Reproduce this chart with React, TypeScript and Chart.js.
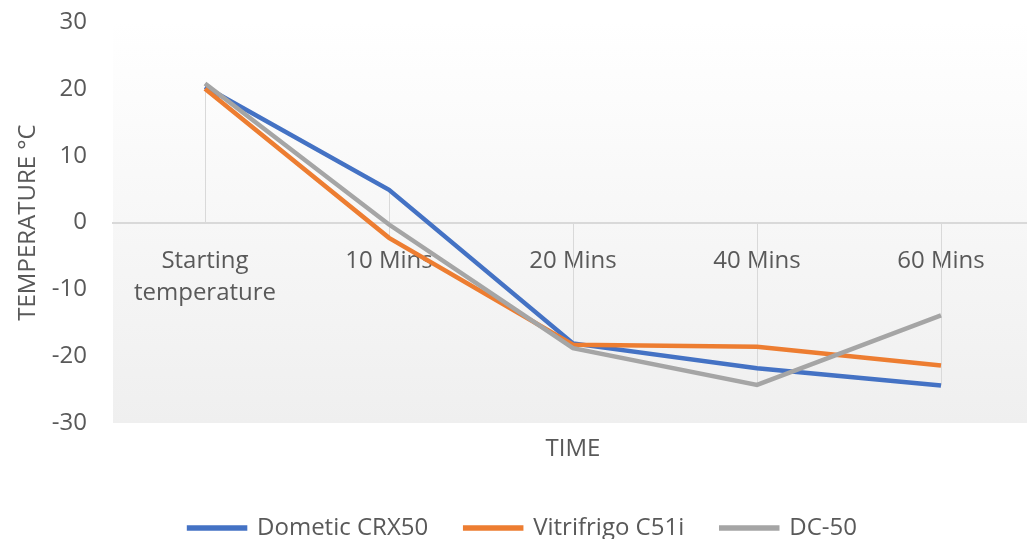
import React, { useEffect, useRef } from 'react';
import { Chart, registerables } from 'chart.js';

Chart.register(...registerables);

const categories: (string | string[])[] = [['Starting', 'temperature'], '10 Mins', '20 Mins', '40 Mins', '60 Mins'];
const dometicCRX50 = [20.3, 4.9, -18.1, -21.8, -24.4];
const vitrifrigoC51i = [20.0, -2.3, -18.3, -18.6, -21.4];
const dc50 = [20.8, -0.3, -18.8, -24.3, -13.9];
const yMin = -30;
const yMax = 30;
const yStep = 10;

const TEXT = '#595959';
const FONT = 'Open Sans';

const plotBg = {
  id: 'plotBg',
  beforeDraw(chart: any) {
    const { ctx, chartArea: a } = chart;
    const g = ctx.createLinearGradient(0, a.top, 0, a.bottom);
    g.addColorStop(0, '#ffffff');
    g.addColorStop(1, '#efefef');
    ctx.save();
    ctx.fillStyle = g;
    ctx.fillRect(a.left, a.top, a.right - a.left, a.bottom - a.top);
    ctx.restore();
  },
};

const dropLines = {
  id: 'dropLines',
  beforeDatasetsDraw(chart: any) {
    const { ctx } = chart;
    const xs = chart.scales.x;
    const ys = chart.scales.y;
    const ds = chart.data.datasets;
    ctx.save();
    ctx.strokeStyle = '#d9d9d9';
    ctx.lineWidth = 1;
    for (let i = 0; i < chart.data.labels.length; i++) {
      const vals = ds.map((d: any) => d.data[i] as number);
      const lo = Math.min(0, ...vals);
      const hi = Math.max(0, ...vals);
      const px = Math.round(xs.getPixelForValue(i)) + 0.5;
      ctx.beginPath();
      ctx.moveTo(px, ys.getPixelForValue(hi));
      ctx.lineTo(px, ys.getPixelForValue(lo));
      ctx.stroke();
    }
    ctx.restore();
  },
};

export default function App() {
  const ref = useRef<HTMLCanvasElement>(null);
  useEffect(() => {
    if (!ref.current) return;
    const chart = new Chart(ref.current, {
      type: 'line',
      data: {
        labels: categories,
        datasets: [
          { label: 'DC-50', data: dc50, borderColor: '#A5A5A5', backgroundColor: '#A5A5A5', borderWidth: 4.5, pointRadius: 0, tension: 0 },
          { label: 'Vitrifrigo C51i', data: vitrifrigoC51i, borderColor: '#ED7D31', backgroundColor: '#ED7D31', borderWidth: 4.5, pointRadius: 0, tension: 0 },
          { label: 'Dometic CRX50', data: dometicCRX50, borderColor: '#4472C4', backgroundColor: '#4472C4', borderWidth: 4.5, pointRadius: 0, tension: 0 },
        ],
      },
      options: {
        animation: false,
        responsive: false,
        devicePixelRatio: 1,
        layout: { padding: { left: 0, top: 22, right: 0, bottom: 0 } },
        scales: {
          x: {
            type: 'category',
            position: { y: 0 } as any,
            offset: true,
            grid: { display: false, drawTicks: false },
            border: { display: true, color: '#d9d9d9', width: 2 },
            ticks: { color: TEXT, font: { family: FONT, size: 24, lineHeight: 1.35 }, padding: 22, maxRotation: 0, autoSkip: false },
          },
          y: {
            type: 'linear',
            min: yMin,
            max: yMax,
            grid: { display: false, drawTicks: true, tickLength: 22 },
            border: { display: false },
            ticks: { stepSize: yStep, color: TEXT, font: { family: FONT, size: 24 }, padding: 4 },
            title: { display: true, text: 'TEMPERATURE °C', color: TEXT, font: { family: FONT, size: 24 }, padding: { top: 14, bottom: 0 } },
            afterFit(s: any) { s.width = 113; },
          },
          yR: {
            type: 'linear',
            position: 'right',
            min: 0,
            max: 1,
            grid: { display: false, drawTicks: false },
            border: { display: false },
            ticks: { display: false },
            afterFit(s: any) { s.width = 13; },
          },
        },
        plugins: {
          legend: {
            position: 'bottom',
            reverse: true,
            labels: { color: TEXT, font: { family: FONT, size: 24 }, boxWidth: 56, boxHeight: 1, padding: 37 },
          },
          title: {
            display: true,
            text: 'TIME',
            position: 'bottom',
            fullSize: false,
            weight: 500,
            color: TEXT,
            font: { family: FONT, size: 24, weight: 'normal' },
            padding: { top: 11.6, bottom: 15.6 },
          } as any,
          tooltip: { enabled: false },
        },
      },
      plugins: [plotBg, dropLines],
    });
    return () => chart.destroy();
  }, []);
  return (
    <div style={{ position: 'fixed', left: 0, top: 0, width: 1027, height: 539, overflow: 'hidden', background: '#fff' }}>
      <canvas ref={ref} width={1046} height={550} style={{ display: 'block' }} />
    </div>
  );
}
